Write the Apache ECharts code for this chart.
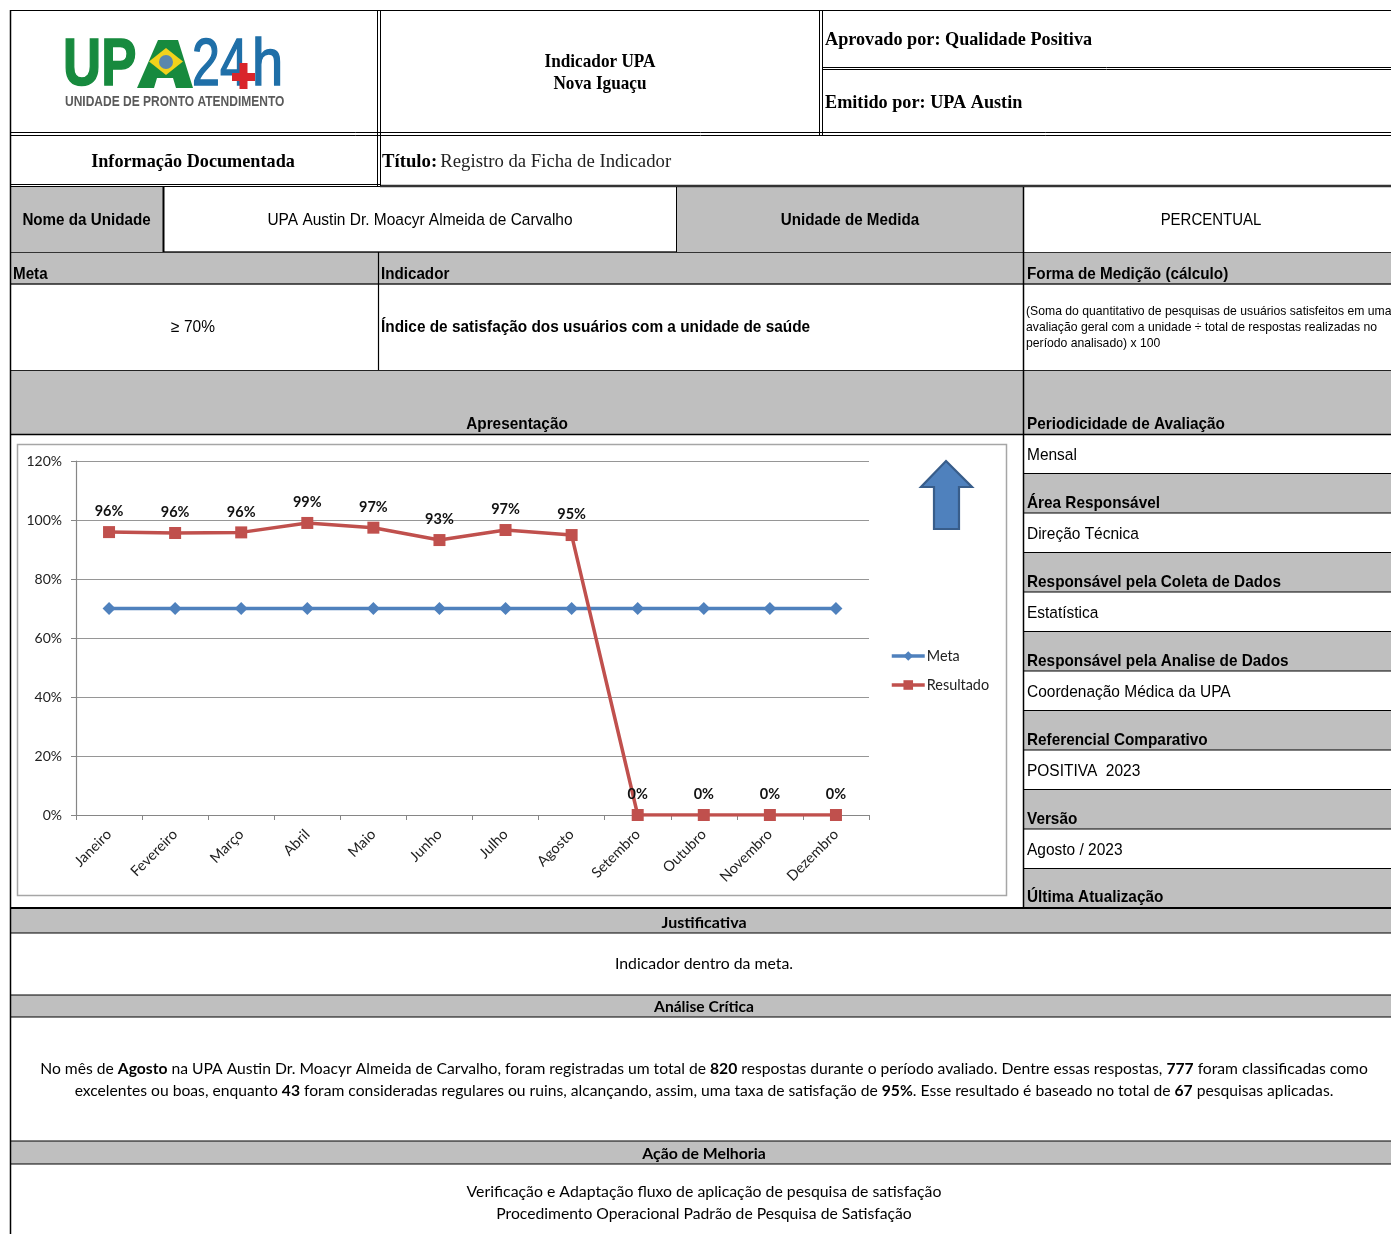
<!DOCTYPE html>
<html><head><meta charset="utf-8">
<style>html,body{margin:0;padding:0;background:#fff;overflow:hidden}#c{width:1391px;height:1234px}</style>
<script src="https://cdn.jsdelivr.net/npm/echarts@6/dist/echarts.min.js"></script>
</head><body><div id="c"></div>
<script>
const categories = ['Janeiro','Fevereiro','Março','Abril','Maio','Junho','Julho','Agosto','Setembro','Outubro','Novembro','Dezembro'];
const metaValues = [70,70,70,70,70,70,70,70,70,70,70,70];
const resultadoValues = [95.9,95.6,95.8,99,97.4,93.2,96.6,94.9,0,0,0,0];
const seriesNames = ['Meta','Resultado'];

const SERIF='"Liberation Serif"', ARIAL='"Liberation Sans"', CAL='Lato';
const GREY='#bfbfbf';
const g=[];
const rect=(x,y,w,h,fill,z=0)=>g.push({type:'rect',silent:true,z,shape:{x,y,width:w,height:h},style:{fill}});
const hl=(x1,x2,y,w=1.5,c='#000')=>g.push({type:'line',silent:true,z:1,shape:{x1,y1:y,x2,y2:y},style:{stroke:c,lineWidth:w}});
const vl=(x,y1,y2,w=1.5,c='#000')=>g.push({type:'line',silent:true,z:1,shape:{x1:x,y1,x2:x,y2},style:{stroke:c,lineWidth:w}});
const txt=(x,y,text,o={})=>{
  const s=o.s||15.5, f=o.f||ARIAL;
  const real=f===CAL?s:(f===SERIF?s*1.05:(s<13?12.8:16.3));
  g.push({type:'text',silent:true,z:2,x,y:y<910?y+2:y,scaleX:s/real,style:{text,fill:'#000',font:(o.w||'normal')+' '+real+'px '+f,align:o.a||'left',verticalAlign:'middle'}});
};

/* backgrounds */
rect(10,187,153,65,GREY); rect(677,187,346,65,GREY);
rect(10,252,1381,32,GREY); rect(10,370,1381,64,GREY);
[[474,513],[553,592],[632,671],[711,750],[790,829],[869,908]].forEach(r=>rect(1023,r[0],368,r[1]-r[0],GREY));
rect(10,908,1381,25,GREY); rect(10,995,1381,22,GREY); rect(10,1141,1381,23,GREY);

/* rules */
hl(10,1391,10.5,1.2); hl(822,1391,67.5,1); hl(822,1391,69.5,1);
hl(10,1391,132.5,1); hl(10,1391,135.5,1); hl(10,380,184.5,1); hl(10,380,186.5,1.2); hl(380,1391,186,2.5,'#333');
hl(163,677,252,1.5,'#222'); hl(10,1391,252.5,1.2,'#333'); hl(10,1391,284,1.5,'#222');
hl(10,1391,370.5,1.2,'#222'); hl(10,1391,434.5,1.5);
[473.5,513,552.5,592,631.5,671,710.5,750,789.5,829,868.5].forEach(y=>hl(1023,1391,y,1.2));
hl(10,1391,908,2); hl(10,1391,933,1.2); hl(10,1391,995,1.2); hl(10,1391,1017,1.2); hl(10,1391,1141,1.2); hl(10,1391,1164,1.2);
vl(10.5,10,1234,1.5); vl(377.5,10,186,1); vl(380.5,10,186,1); vl(819.5,10,135,1); vl(822.5,10,135,1);
vl(163.5,187,252,2); vl(676.5,187,252,1); vl(1023.5,187,908,1.5); vl(378.5,252,370,1.2);

/* logo */
g.push({type:'text',silent:true,z:2,x:63,y:67,scaleX:0.80,style:{text:'UP',fill:'#178a3e',stroke:'#178a3e',lineWidth:1.5,font:'bold 66px '+ARIAL,verticalAlign:'middle'}});
g.push({type:'polygon',silent:true,z:2,shape:{points:[[158,40],[178,40],[193,88],[176,88],[173,78],[157,78],[154,88],[137,88]]},style:{fill:'#178a3e'}});
g.push({type:'polygon',silent:true,z:3,shape:{points:[[149,61.5],[166,48],[183,61.5],[166,75]]},style:{fill:'#f2d21b'}});
g.push({type:'circle',silent:true,z:4,shape:{cx:166,cy:62,r:7},style:{fill:'#5a87ad'}});
g.push({type:'text',silent:true,z:2,x:192,y:67,scaleX:0.76,style:{text:'24',fill:'#1f6fa8',stroke:'#1f6fa8',lineWidth:1.5,font:'normal 66px '+ARIAL,verticalAlign:'middle'}});
g.push({type:'text',silent:true,z:2,x:252,y:67,scaleX:0.85,style:{text:'h',fill:'#1f6fa8',stroke:'#1f6fa8',lineWidth:1.5,font:'normal 66px '+ARIAL,verticalAlign:'middle'}});
rect(239.5,63,8,26,'#d9252a',3); rect(232,73,23,8,'#d9252a',3);
g.push({type:'text',silent:true,z:2,x:65,y:102,scaleX:0.80,style:{text:'UNIDADE DE PRONTO ATENDIMENTO',fill:'#5a5a5a',font:'bold 15px '+ARIAL,verticalAlign:'middle'}});

/* header text */
txt(600,60.5,'Indicador UPA',{f:SERIF,w:'bold',s:17.2,a:'center'});
txt(600,82.5,'Nova Iguaçu',{f:SERIF,w:'bold',s:17.2,a:'center'});
txt(825,38,'Aprovado por: Qualidade Positiva',{f:SERIF,w:'bold',s:18.2});
txt(825,101,'Emitido por: UPA Austin',{f:SERIF,w:'bold',s:18.2});
txt(193,160,'Informação Documentada',{f:SERIF,w:'bold',s:18.2,a:'center'});
g.push({type:'text',silent:true,z:2,x:382,y:162,scaleX:0.96,style:{text:'{b|Título:} {n|Registro da Ficha de Indicador}',verticalAlign:'middle',rich:{b:{font:'bold 19.5px '+SERIF,fill:'#000'},n:{font:'normal 19.5px '+SERIF,fill:'#222'}}}});

txt(86.5,219,'Nome da Unidade',{w:'bold',s:15.2,a:'center'});
txt(420,219,'UPA Austin Dr. Moacyr Almeida de Carvalho',{s:15.5,a:'center'});
txt(850,219,'Unidade de Medida',{w:'bold',s:15.2,a:'center'});
txt(1211,219,'PERCENTUAL',{s:15,a:'center'});
txt(13,273,'Meta',{w:'bold',s:15.2}); txt(381,273,'Indicador',{w:'bold',s:15.2}); txt(1027,273,'Forma de Medição (cálculo)',{w:'bold',s:15.3});
txt(193,326,'≥ 70%',{s:15.5,a:'center'});
txt(381,326,'Índice de satisfação dos usuários com a unidade de saúde',{w:'bold',s:15.4});
txt(1026,309,'(Soma do quantitativo de pesquisas de usuários satisfeitos em uma',{s:12.2});
txt(1026,325,'avaliação geral com a unidade ÷ total de respostas realizadas no',{s:12.2});
txt(1026,341,'período analisado) x 100',{s:12.2});
txt(517,423,'Apresentação',{w:'bold',s:15.4,a:'center'});
[['Periodicidade de Avaliação',423],['Área Responsável',502],['Responsável pela Coleta de Dados',581],['Responsável pela Analise de Dados',660],['Referencial Comparativo',739],['Versão',818],['Última Atualização',896]].forEach(r=>txt(1027,r[1],r[0],{w:'bold',s:15.35}));
[['Mensal',454],['Direção Técnica',533],['Estatística',612],['Coordenação Médica da UPA',691],['POSITIVA  2023',770],['Agosto / 2023',849]].forEach(r=>txt(1027,r[1],r[0],{s:15.5}));

/* chart frame and arrow */
g.push({type:'rect',silent:true,z:0,shape:{x:17.5,y:444.5,width:989,height:451},style:{fill:'#fff',stroke:'#a6a6a6',lineWidth:1.5}});
g.push({type:'polygon',silent:true,z:2,shape:{points:[[946,461],[972,487],[959,487],[959,529],[934,529],[934,487],[921,487]]},style:{fill:'#4f81bd',stroke:'#385d8a',lineWidth:2.2}});

/* lower text */
txt(704,923,'Justificativa',{w:'bold',s:16,a:'center',f:CAL});
txt(704,964,'Indicador dentro da meta.',{s:15.8,a:'center',f:CAL});
txt(704,1007,'Análise Crítica',{w:'bold',s:15.6,a:'center',f:CAL});
txt(704,1154,'Ação de Melhoria',{w:'bold',s:15.8,a:'center',f:CAL});
const para=(y,text)=>g.push({type:'text',silent:true,z:2,x:704,y,style:{text,align:'center',verticalAlign:'middle',rich:{n:{font:'normal 15.66px '+CAL,fill:'#000'},b:{font:'bold 15.66px '+CAL,fill:'#000'}}}});
para(1069,'{n|No mês de }{b|Agosto}{n| na UPA Austin Dr. Moacyr Almeida de Carvalho, foram registradas um total de }{b|820}{n| respostas durante o período avaliado. Dentre essas respostas, }{b|777}{n| foram classificadas como}');
para(1091,'{n|excelentes ou boas, enquanto }{b|43}{n| foram consideradas regulares ou ruins, alcançando, assim, uma taxa de satisfação de }{b|95%}{n|. Esse resultado é baseado no total de }{b|67}{n| pesquisas aplicadas.}');
txt(704,1192,'Verificação e Adaptação fluxo de aplicação de pesquisa de satisfação',{s:15.83,a:'center',f:CAL});
txt(704,1214,'Procedimento Operacional Padrão de Pesquisa de Satisfação',{s:15.7,a:'center',f:CAL});

const chart=echarts.init(document.getElementById('c'),null,{renderer:'canvas',width:1391,height:1234});
chart.setOption({
  animation:false,
  backgroundColor:'#fff',
  graphic:{elements:g},
  grid:{left:76,right:522,top:461,bottom:419,containLabel:false},
  legend:{left:885,top:644,orient:'vertical',itemWidth:33,itemHeight:12,itemGap:15,z:5,
    lineStyle:{width:3.5},
    textStyle:{fontFamily:CAL,fontSize:14.4,color:'#222',padding:[0,0,0,-3]},data:seriesNames},
  xAxis:{type:'category',data:categories,boundaryGap:true,z:2,
    axisLine:{lineStyle:{color:'#868686',width:1.2}},
    axisTick:{show:true,alignWithLabel:false,length:5,lineStyle:{color:'#868686'}},
    axisLabel:{rotate:45,interval:0,margin:17,fontFamily:CAL,fontSize:14.5,color:'#222'}},
  yAxis:{type:'value',min:0,max:120,interval:20,z:2,
    axisLine:{show:true,lineStyle:{color:'#868686',width:1.2}},
    axisTick:{show:true,length:5,lineStyle:{color:'#868686'}},
    axisLabel:{margin:14,fontFamily:CAL,fontSize:14,color:'#222',formatter:v=>v+'%'},
    splitLine:{show:true,lineStyle:{color:'#969696',width:1.2}}},
  series:[
    {name:seriesNames[0],type:'line',z:3,data:metaValues,symbol:'diamond',symbolSize:13,
     lineStyle:{color:'#4f81bd',width:3.5},itemStyle:{color:'#4f81bd'}},
    {name:seriesNames[1],type:'line',z:4,data:resultadoValues,symbol:'rect',symbolSize:12,
     lineStyle:{color:'#c0504d',width:3.5},itemStyle:{color:'#c0504d'},
     label:{show:true,position:'top',distance:7,fontFamily:CAL,fontWeight:'bold',fontSize:14.5,color:'#111',
       formatter:p=>Math.round(p.value)+'%'}}
  ]
});
</script></body></html>
